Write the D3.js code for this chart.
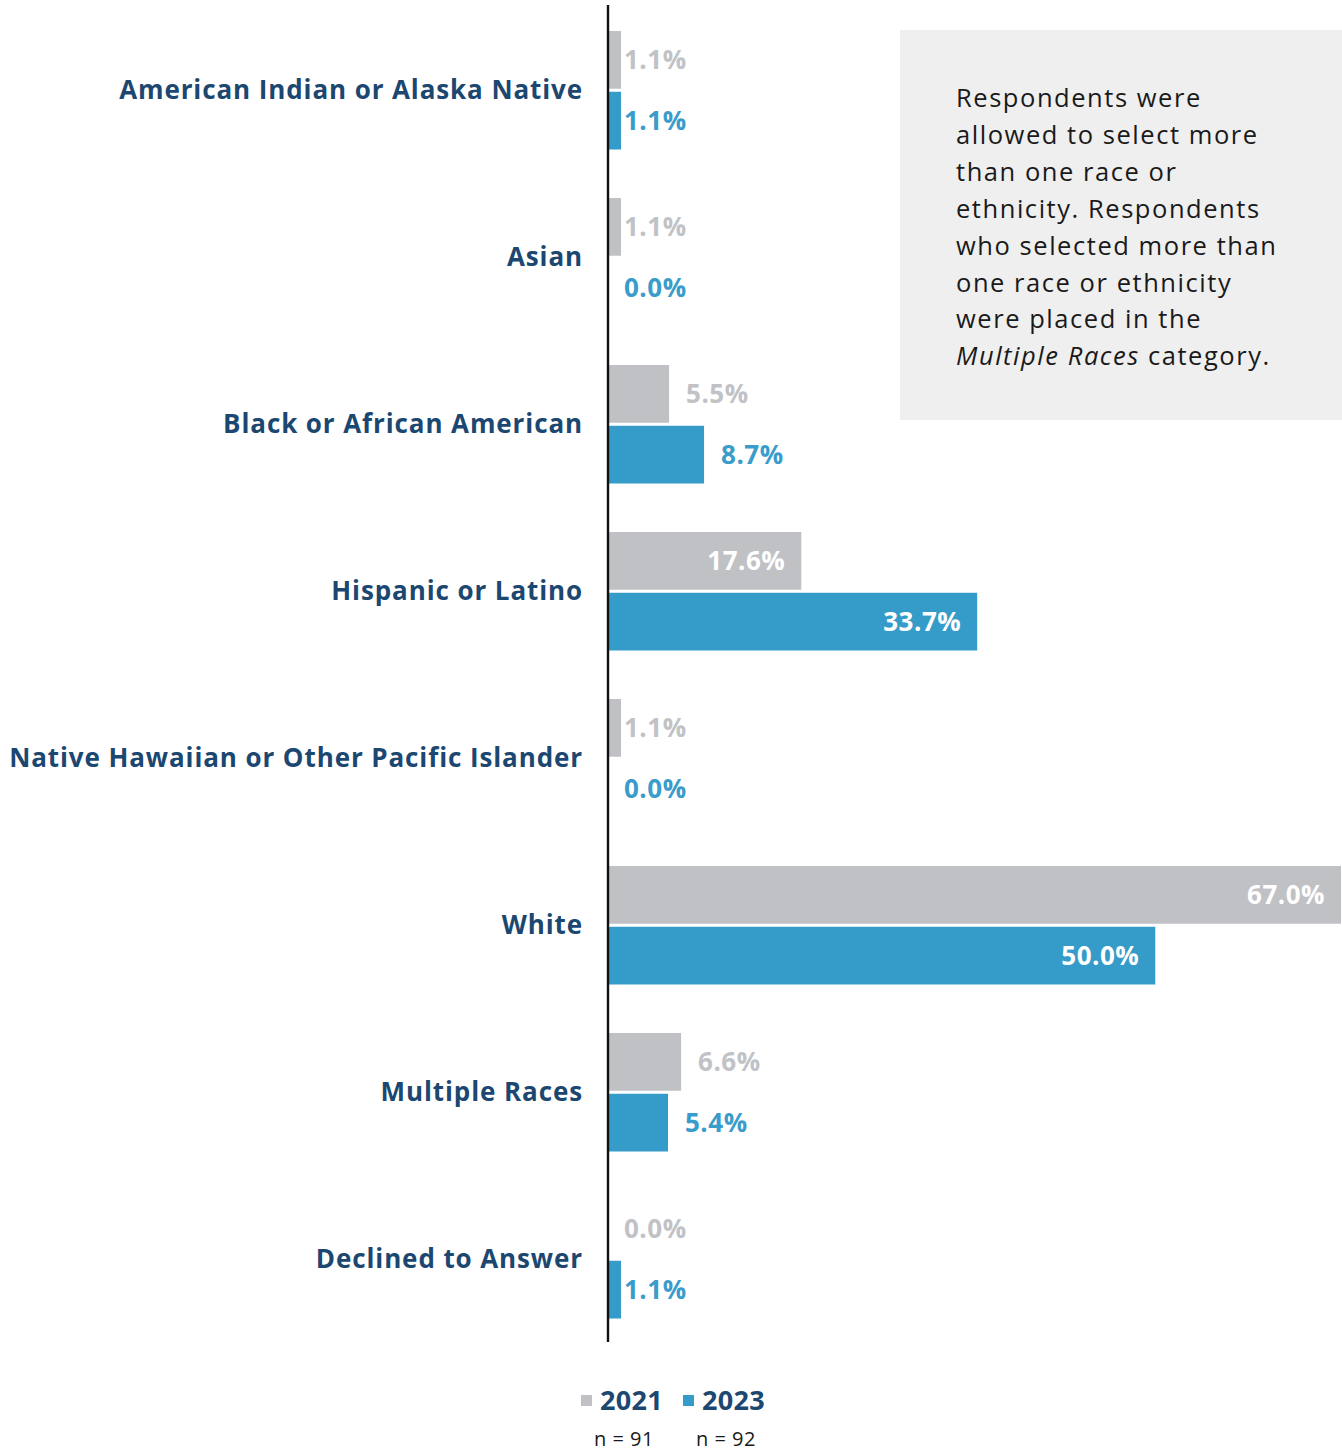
<!DOCTYPE html>
<html>
<head>
<meta charset="utf-8">
<script src="https://cdn.jsdelivr.net/npm/d3@7"></script>
<style>
  html, body { margin: 0; padding: 0; background: #ffffff; }
  svg { display: block; }
</style>
</head>
<body>
<svg id="chart" width="1342" height="1452"></svg>
<script>
const categories = [
  "American Indian or Alaska Native",
  "Asian",
  "Black or African American",
  "Hispanic or Latino",
  "Native Hawaiian or Other Pacific Islander",
  "White",
  "Multiple Races",
  "Declined to Answer"
];
const values2021 = [1.1, 1.1, 5.5, 17.6, 1.1, 67.0, 6.6, 0.0];
const values2023 = [1.1, 0.0, 8.7, 33.7, 0.0, 50.0, 5.4, 1.1];
const seriesNames = ["2021", "2023"];
const sampleSizes = ["n = 91", "n = 92"];
const noteLines = [
  [{t: "Respondents were"}],
  [{t: "allowed to select more"}],
  [{t: "than one race or"}],
  [{t: "ethnicity. Respondents"}],
  [{t: "who selected more than"}],
  [{t: "one race or ethnicity"}],
  [{t: "were placed in the"}],
  [{t: "Multiple Races", i: true}, {t: " category."}]
];

const FONT = "'Open Sans', 'Noto Sans', sans-serif";
const GRAY = "#bfc1c5";
const BLUE = "#359bc9";
const GRAY_TXT = "#c0c2c6";
const BLUE_TXT = "#3a9cca";
const NAVY = "#1b4770";

const svg = d3.select("#chart");
const W = 1342;

const x = d3.scaleLinear().domain([0, 67]).range([609, 1341]);
const y = d3.scaleBand().domain(categories).range([31, 31 + 167 * categories.length]).paddingInner(0).paddingOuter(0);
const sub = d3.scaleBand().domain(seriesNames).range([0, 118.5]).paddingInner(0.05);

// note box
const note = svg.append("g");
note.append("rect").attr("x", 900).attr("y", 30).attr("width", W - 900).attr("height", 390).attr("fill", "#efefef");
const nt = note.append("text")
  .attr("font-family", FONT).attr("font-size", 25.5).attr("letter-spacing", 1.55).attr("fill", "#1a1a1a");
noteLines.forEach((line, i) => {
  const tl = nt.append("tspan").attr("x", 956).attr("y", 107 + i * 36.9);
  line.forEach((seg, j) => {
    const s = j === 0 ? tl : nt.append("tspan");
    s.text(seg.t);
    if (seg.i) s.attr("font-style", "italic");
  });
});

const series = [
  { name: seriesNames[0], vals: values2021, fill: GRAY, txt: GRAY_TXT },
  { name: seriesNames[1], vals: values2023, fill: BLUE, txt: BLUE_TXT }
];

const groups = svg.append("g").selectAll("g")
  .data(categories).join("g")
  .attr("transform", d => `translate(0,${y(d)})`);

series.forEach(s => {
  groups.append("rect")
    .attr("x", x(0))
    .attr("y", sub(s.name))
    .attr("width", (d, i) => x(s.vals[i]) - x(0))
    .attr("height", sub.bandwidth())
    .attr("fill", s.fill);

  groups.append("text")
    .attr("font-family", FONT)
    .attr("font-weight", 700)
    .attr("font-size", 26)
    .attr("letter-spacing", 0.5)
    .attr("y", sub(s.name) + sub.bandwidth() / 2 + 9)
    .attr("x", (d, i) => {
      const v = s.vals[i];
      if (v > 15) return x(v) - 16;
      if (v < 2) return x(0) + 15;
      return x(v) + 17;
    })
    .attr("text-anchor", (d, i) => s.vals[i] > 15 ? "end" : "start")
    .attr("fill", (d, i) => s.vals[i] > 15 ? "#ffffff" : s.txt)
    .text((d, i) => d3.format(".1f")(s.vals[i]) + "%");
});

// category labels
groups.append("text")
  .attr("font-family", FONT)
  .attr("font-weight", 700)
  .attr("font-size", 26)
  .attr("letter-spacing", 0.9)
  .attr("fill", NAVY)
  .attr("text-anchor", "end")
  .attr("x", 583)
  .attr("y", 59.5 + 8)
  .text(d => d);

// axis line
const yAxis = d3.axisLeft(y).tickSize(0).tickFormat("");
svg.append("g").attr("transform", `translate(${x(0) - 1},0)`).call(yAxis)
  .call(g => g.select(".domain").attr("stroke", "#111").attr("stroke-width", 2.4)
    .attr("d", "M0,5V1342"));

// legend
const leg = svg.append("g");
const legX = [581, 683];
series.forEach((s, i) => {
  leg.append("rect").attr("x", legX[i]).attr("y", 1395).attr("width", 11).attr("height", 11).attr("fill", s.fill);
  leg.append("text").attr("x", legX[i] + 19).attr("y", 1410)
    .attr("font-family", FONT).attr("font-weight", 700).attr("font-size", 27).attr("letter-spacing", 0.3).attr("fill", NAVY)
    .text(s.name);
  leg.append("text").attr("x", legX[i] + 13).attr("y", 1446)
    .attr("font-family", FONT).attr("font-size", 20).attr("letter-spacing", 0.5).attr("fill", "#1a1a1a")
    .text(sampleSizes[i]);
});
</script>
</body>
</html>
